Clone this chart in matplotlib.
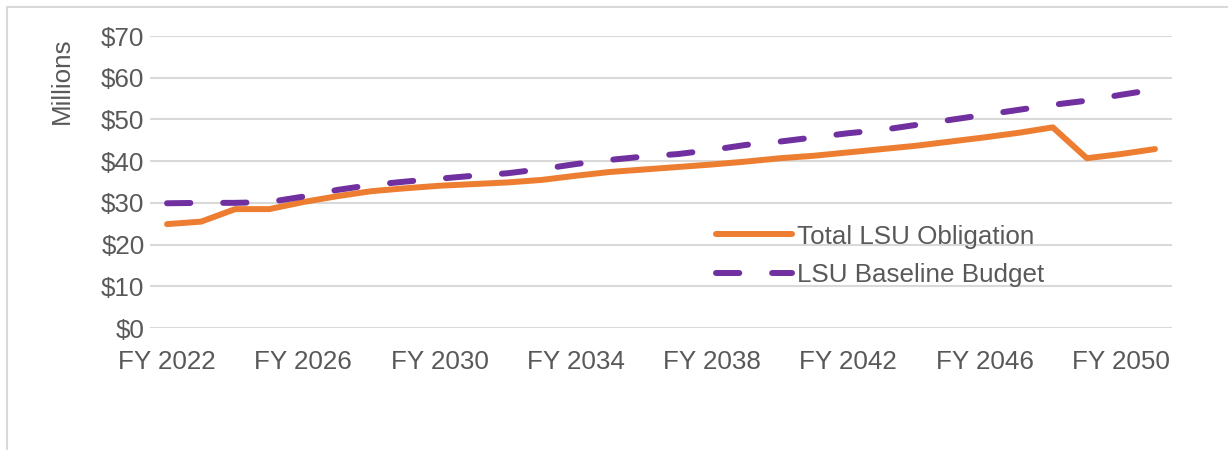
import matplotlib.pyplot as plt
from matplotlib.patches import Rectangle

plt.rcParams['font.family'] = ['Liberation Sans', 'DejaVu Sans']

years = [f"FY {y}" for y in range(2022, 2052)]
obligation = [24.9, 25.5, 28.5, 28.5, 30.2, 31.6, 32.8, 33.5, 34.1, 34.5,
              34.9, 35.5, 36.5, 37.4, 38.0, 38.6, 39.2, 39.9, 40.7, 41.3,
              42.1, 42.9, 43.7, 44.7, 45.7, 46.8, 48.1, 40.7, 41.7, 42.9]
baseline = [29.9, 30.0, 30.0, 30.2, 31.5, 33.1, 34.3, 35.1, 35.8, 36.5,
            37.1, 38.1, 39.3, 40.3, 41.1, 41.7, 42.7, 43.9, 44.7, 45.7,
            46.7, 47.5, 48.7, 49.9, 51.1, 52.3, 53.5, 54.5, 55.9, 57.2]
yticks = [0, 10, 20, 30, 40, 50, 60, 70]

txt = '#595959'
fs = 18.7

fig = plt.figure(figsize=(12.28, 4.5), dpi=100)
fig.patches.append(Rectangle((7 / 1228, -0.1), 1.1, (443 / 450) + 0.1,
                             transform=fig.transFigure, fill=False,
                             edgecolor='#d9d9d9', linewidth=1.5))
ax = fig.add_axes([150 / 1228, 122 / 450, 1022 / 1228, 292 / 450])

x = list(range(len(years)))
ax.plot(x, obligation, color='#ED7D31', lw=4.3, solid_capstyle='round',
        solid_joinstyle='round', label='Total LSU Obligation', zorder=3)
l2, = ax.plot(x, baseline, color='#7030A0', lw=4.3, dash_capstyle='round',
              label='LSU Baseline Budget', zorder=3)
l2.set_dashes([3.9, 5.5])

ax.set_xlim(-0.5, len(years) - 0.5)
ax.set_ylim(0, 70)
ax.set_yticks(yticks)
ax.set_yticklabels([f"${v}" for v in yticks])
ax.set_xticks(x[::4])
ax.set_xticklabels(years[::4])
ax.grid(axis='y', color='#d9d9d9', lw=1.5)
ax.set_axisbelow(True)
for s in ax.spines.values():
    s.set_visible(False)
ax.tick_params(axis='both', length=0, labelsize=fs, labelcolor=txt)
ax.tick_params(axis='y', pad=4)
ax.tick_params(axis='x', pad=16)

ax.set_ylabel("Millions", fontsize=fs, color=txt)
ax.yaxis.set_label_coords(-0.074, 0.846)

ax.legend(loc='upper left', bbox_to_anchor=(0.544, 0.39), frameon=False,
          fontsize=fs, labelcolor=txt, handlelength=2.9, handletextpad=0.2,
          labelspacing=0.55, borderaxespad=0)

fig.savefig('out.png', dpi=100)
